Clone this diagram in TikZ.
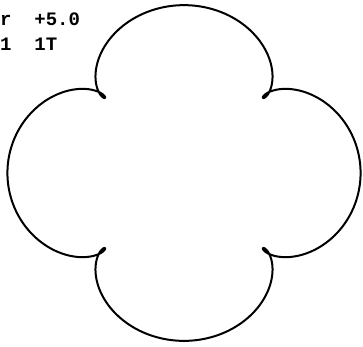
\documentclass[tikz,border=0pt]{standalone}
\usepackage{fontspec}
\setmonofont{Liberation Mono}

\begin{document}
\begin{tikzpicture}[
    x=1pt, y=-1pt,
    curveline/.style={draw, line width=2pt, line join=round, line cap=round},
    readout/.style={anchor=base west, inner sep=0pt, font=\ttfamily\bfseries\fontsize{19}{19}\selectfont}
]
    \useasboundingbox (0,0) rectangle (363,346);

    \node[readout] (line1) at (0,25) {r\ \ +5.0};
    \node[readout] (line2) at (0,50) {1\ \ 1T};

    % four-lobed trochoid, cusps pointing in
    \draw[curveline] plot[domain=0:360, samples=721, variable=\t]
        ({184 + 32.4*(4.45*cos(\t+45) - cos(5*\t+45))},
         {173 - 30.8*(4.45*sin(\t+45) - sin(5*\t+45))}) -- cycle;
\end{tikzpicture}
\end{document}
